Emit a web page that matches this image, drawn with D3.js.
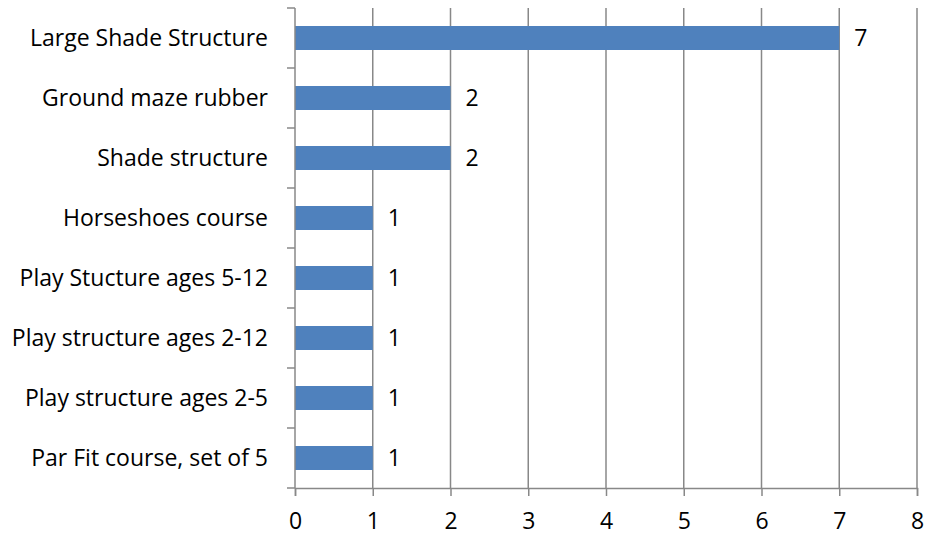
<!DOCTYPE html>
<html>
<head>
<meta charset="utf-8">
<script src="https://cdn.jsdelivr.net/npm/d3@7"></script>
<style>
  body { margin: 0; background: #fff; }
  text { font-family: "Open Sans", sans-serif; fill: #000; }
</style>
</head>
<body>
<div id="chart"></div>
<script>
// Data
var categories = ["Large Shade Structure", "Ground maze rubber", "Shade structure",
  "Horseshoes course", "Play Stucture ages 5-12", "Play structure ages 2-12",
  "Play structure ages 2-5", "Par Fit course, set of 5"];
var counts = [7, 2, 2, 1, 1, 1, 1, 1];
var xTicks = [0, 1, 2, 3, 4, 5, 6, 7, 8];

var fontSize = "23px";
var margin = {top: 8, right: 8, bottom: 50, left: 295},
    width = 925 - margin.left - margin.right,
    height = 538 - margin.top - margin.bottom;

var svg = d3.select("#chart").append("svg")
    .attr("width", 925)
    .attr("height", 538)
  .append("g")
    .attr("transform", "translate(" + margin.left + "," + margin.top + ")");

var x = d3.scaleLinear().domain([0, 8]).range([0, width]);
var y = d3.scaleBand().domain(categories).range([0, height]).paddingInner(0.6).paddingOuter(0.3);
var yBand = d3.scaleBand().domain(categories).range([0, height]);

// Vertical gridlines
svg.selectAll(".grid")
    .data(xTicks.slice(1))
  .enter().append("line")
    .attr("x1", function(d) { return x(d); })
    .attr("x2", function(d) { return x(d); })
    .attr("y1", 0)
    .attr("y2", height)
    .attr("stroke", "#888")
    .attr("stroke-width", 1.5);

// Bars
svg.selectAll(".bar")
    .data(counts)
  .enter().append("rect")
    .attr("x", 0)
    .attr("y", function(d, i) { return y(categories[i]); })
    .attr("width", function(d) { return x(d); })
    .attr("height", y.bandwidth())
    .attr("fill", "#4f81bd");

// Value labels
svg.selectAll(".val")
    .data(counts)
  .enter().append("text")
    .attr("x", function(d) { return x(d) + 15; })
    .attr("y", function(d, i) { return y(categories[i]) + y.bandwidth() / 2; })
    .attr("dy", "0.35em")
    .attr("font-size", fontSize)
    .text(function(d) { return d; });

// x axis
var xAxis = svg.append("g")
    .attr("transform", "translate(0," + height + ")")
    .call(d3.axisBottom(x).tickValues(xTicks).tickSize(8).tickPadding(17).tickFormat(d3.format("d")));
xAxis.selectAll("text").attr("font-size", fontSize).attr("font-family", "'Open Sans', sans-serif");
xAxis.select(".domain").attr("stroke", "#888").attr("stroke-width", 1.5);
xAxis.selectAll(".tick line").attr("stroke", "#888").attr("stroke-width", 1.5);

// y axis: ticks at band boundaries
var yAxis = svg.append("g");
yAxis.append("line")
    .attr("x1", 0).attr("x2", 0).attr("y1", 0).attr("y2", height);
yAxis.selectAll(".ytick")
    .data(categories.concat(["end"]))
  .enter().append("line")
    .attr("x1", -8).attr("x2", 0)
    .attr("y1", function(d, i) { return i < categories.length ? yBand(d) : height; })
    .attr("y2", function(d, i) { return i < categories.length ? yBand(d) : height; });
yAxis.selectAll("line").attr("stroke", "#888").attr("stroke-width", 1.5);

svg.selectAll(".cat")
    .data(categories)
  .enter().append("text")
    .attr("x", -27)
    .attr("y", function(d) { return yBand(d) + yBand.bandwidth() / 2; })
    .attr("dy", "0.35em")
    .attr("text-anchor", "end")
    .attr("font-size", fontSize)
    .text(function(d) { return d; });
</script>
</body>
</html>
